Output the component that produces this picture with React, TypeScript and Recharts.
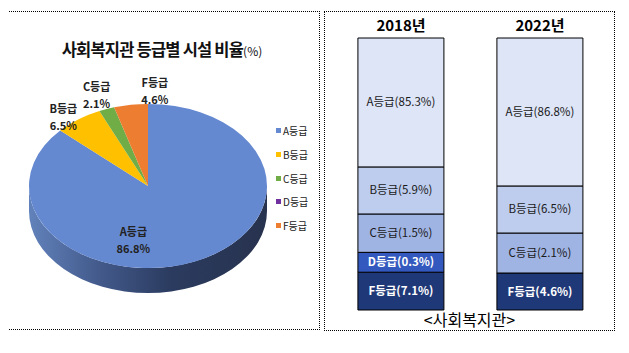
import React from "react";
import { PieChart, Pie, Cell, BarChart, Bar, XAxis, YAxis, LabelList } from "recharts";

const FONT = '"Noto Sans CJK KR", "Noto Sans", sans-serif';

// pie: grade share of facilities (%)
const GRADES = ["A등급", "B등급", "C등급", "D등급", "F등급"];
const PIE_SHARE = [86.8, 6.5, 2.1, 0, 4.6];
const PIE_COLORS = ["#6589d1", "#ffc000", "#70ad47", "#7030a0", "#ed7d31"];

// columns: the printed percentages per year
const YEARS = ["2018년", "2022년"];
const KEYS = ["A", "B", "C", "D", "F"];
const PCT_2018 = [85.3, 5.9, 1.5, 0.3, 7.1];
const PCT_2022 = [86.8, 6.5, 2.1, 0, 4.6];
// block sizes as drawn in the picture (column is not to scale), % of column
const BLOCK_2018 = [47.4, 17.3, 14.1, 7.3, 13.9];
const BLOCK_2022 = [54.4, 17.3, 14.7, 0, 13.6];
const BAR_COLORS = ["#dde5f7", "#becdee", "#a0b4e4", "#3358be", "#1f3878"];

const pieData = GRADES.map((g, i) => ({ name: g, value: PIE_SHARE[i] }));

const barRows = YEARS.map((year, r) => {
  const blocks = r === 0 ? BLOCK_2018 : BLOCK_2022;
  const pcts = r === 0 ? PCT_2018 : PCT_2022;
  const row: any = { year };
  KEYS.forEach((k, i) => {
    row[k] = blocks[i];
    row["p" + k] = pcts[i];
  });
  return row;
});

const TILT = 0.69;
const DEPTH = 25;

function ell(cx: number, cy: number, r: number, a: number) {
  const t = (-a * Math.PI) / 180;
  return [cx + r * Math.cos(t), cy + r * TILT * Math.sin(t)];
}

// tilted pie slice with its side wall
function Slice3D(props: any) {
  const { cx, cy, outerRadius: r, startAngle, endAngle, fill, index } = props;
  const hi = Math.max(startAngle, endAngle);
  const lo = Math.min(startAngle, endAngle);
  if (hi - lo <= 0.001) return <g />;
  const ry = r * TILT;
  const [x1, y1] = ell(cx, cy, r, startAngle);
  const [x2, y2] = ell(cx, cy, r, endAngle);
  const large = hi - lo > 180 ? 1 : 0;
  const sweep = startAngle > endAngle ? 1 : 0;
  const top = `M${cx},${cy} L${x1},${y1} A${r},${ry} 0 ${large} ${sweep} ${x2},${y2} Z`;
  const walls: string[] = [];
  for (const k of [-360, 0, 360]) {
    const a = Math.max(lo, -180 + k);
    const b = Math.min(hi, k);
    if (b - a > 0.01) {
      const [ax, ay] = ell(cx, cy, r, b);
      const [bx, by] = ell(cx, cy, r, a);
      walls.push(
        `M${ax},${ay} A${r},${ry} 0 0 1 ${bx},${by} L${bx},${by + DEPTH} A${r},${ry} 0 0 0 ${ax},${ay + DEPTH} Z`
      );
    }
  }
  const gid = `wall-${index}`;
  return (
    <g>
      <defs>
        <linearGradient id={gid} gradientUnits="userSpaceOnUse" x1={cx - r} y1={0} x2={cx + r} y2={0}>
          <stop offset="0" stopColor="#6282bb" />
          <stop offset="0.3" stopColor="#42598a" />
          <stop offset="0.6" stopColor="#2b3b5f" />
          <stop offset="1" stopColor="#27324e" />
        </linearGradient>
      </defs>
      {walls.map((d, i) => (
        <path key={i} d={d} fill={`url(#${gid})`} />
      ))}
      <path d={top} fill={fill} />
    </g>
  );
}

// [radius factor, dx, dy] for each label
const LABEL_SPOT: Record<string, [number, number, number]> = {
  "A등급": [0.55, -41, 13],
  "B등급": [1, -15, -2],
  "C등급": [1, -10, -14],
  "F등급": [1, 24, -14],
};

function renderPieLabel(props: any) {
  const { cx, cy, midAngle, outerRadius, name, value } = props;
  const spot = LABEL_SPOT[name];
  if (!spot || !value) return null;
  const [px, py] = ell(cx, cy, outerRadius * spot[0], midAngle);
  const x = px + spot[1];
  const y = py + spot[2];
  return (
    <g>
      <text x={x} y={y - 4} textAnchor="middle" fontSize={11} fontWeight="bold" fill="#222" fontFamily={FONT}>
        {name}
      </text>
      <text x={x} y={y + 13} textAnchor="middle" fontSize={11} fontWeight="bold" fill="#222" fontFamily={FONT}>
        {value}%
      </text>
    </g>
  );
}

function YearTick(props: any) {
  const { x, y, payload } = props;
  return (
    <text x={x} y={y + 1} textAnchor="middle" fontSize={15} fontWeight="bold" fill="#000" fontFamily={FONT}>
      {payload.value}
    </text>
  );
}

function blockLabel(i: number) {
  const dark = i >= 3;
  return (props: any) => {
    const { x, y, width, height, value } = props;
    if (!value) return null;
    return (
      <text
        x={x + width / 2}
        y={y + height / 2}
        dy={4}
        textAnchor="middle"
        fontSize={11.5}
        fontWeight={dark ? "bold" : "normal"}
        fill={dark ? "#fff" : "#1a1a1a"}
        fontFamily={FONT}
      >
        {`${GRADES[i]}(${value}%)`}
      </text>
    );
  };
}

export default function App() {
  const order = [4, 3, 2, 1, 0]; // stack from the bottom: F, D, C, B, A
  const pieProps: any = {
    shape: Slice3D,
    activeShape: Slice3D,
    inactiveShape: Slice3D,
  };
  return (
    <div style={{ position: "relative", width: 629, height: 353, margin: -8, background: "#fff", fontFamily: FONT }}>
      <div style={{ position: "absolute", left: 7, top: 11, width: 313, height: 319, border: "1px dotted #000", boxSizing: "border-box" }} />
      <div style={{ position: "absolute", left: 324, top: 11, width: 291, height: 320, border: "1px dotted #000", boxSizing: "border-box" }} />

      <div style={{ position: "absolute", left: 7, top: 38, width: 310, textAlign: "center", fontSize: 16.5, lineHeight: "22px", fontWeight: "bold", letterSpacing: -0.8, color: "#111" }}>
        사회복지관 등급별 시설 비율<span style={{ fontSize: 12, fontWeight: "normal", letterSpacing: 0 }}>(%)</span>
      </div>

      <div style={{ position: "absolute", left: 7, top: 11 }}>
        <PieChart width={313} height={319} margin={{ top: 0, right: 0, bottom: 0, left: 0 }}>
          <Pie
            data={pieData}
            dataKey="value"
            nameKey="name"
            cx={141}
            cy={175}
            outerRadius={119}
            startAngle={90}
            endAngle={-270}
            stroke="none"
            {...pieProps}
            label={renderPieLabel}
            labelLine={false}
            isAnimationActive={false}
          >
            {pieData.map((d, i) => (
              <Cell key={d.name} fill={PIE_COLORS[i]} />
            ))}
          </Pie>
        </PieChart>
      </div>

      <div style={{ position: "absolute", left: 276, top: 119 }}>
        {GRADES.map((g, i) => (
          <div key={g} style={{ height: 23.7, display: "flex", alignItems: "center", fontSize: 10, color: "#222" }}>
            <span style={{ width: 5, height: 5, background: PIE_COLORS[i], marginRight: 2 }} />
            {g}
          </div>
        ))}
      </div>

      <div style={{ position: "absolute", left: 324, top: 11 }}>
        <BarChart width={291} height={320} data={barRows} margin={{ top: 7, right: 5.5, bottom: 21, left: 7.5 }} barCategoryGap="19%">
          <XAxis dataKey="year" orientation="top" height={20} axisLine={false} tickLine={false} tick={<YearTick />} interval={0} />
          <YAxis hide domain={[0, 100]} />
          {order.map((i) => (
            <Bar key={KEYS[i]} dataKey={KEYS[i]} stackId="s" fill={BAR_COLORS[i]} stroke="#000" strokeWidth={1} isAnimationActive={false}>
              <LabelList dataKey={"p" + KEYS[i]} content={blockLabel(i)} />
            </Bar>
          ))}
        </BarChart>
      </div>

      <div style={{ position: "absolute", left: 324, width: 291, top: 308, textAlign: "center", fontSize: 16, lineHeight: "22px", color: "#000" }}>
        &lt;사회복지관&gt;
      </div>
    </div>
  );
}
